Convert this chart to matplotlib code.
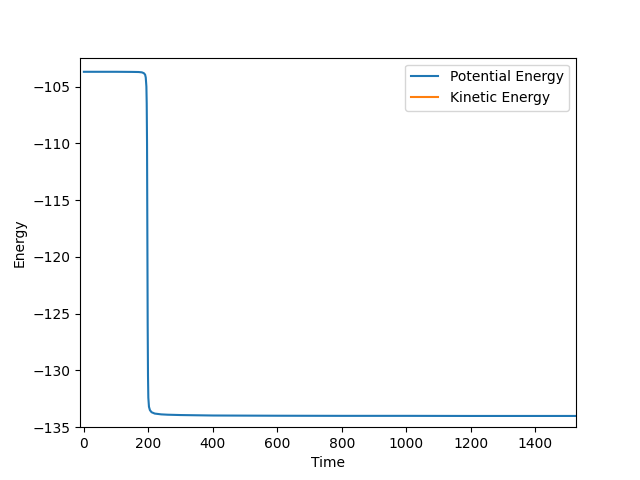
import matplotlib
matplotlib.use("Agg")
import matplotlib.pyplot as plt

time = [0, 50, 100, 150, 170, 180, 186, 190, 192, 194, 195, 196, 197, 198, 199, 200,
        202, 205, 210, 220, 240, 260, 300, 350, 400, 500, 600, 800, 1000, 1200, 1400, 1530]
potential = [-103.70, -103.70, -103.70, -103.71, -103.72, -103.75, -103.82, -103.95, -104.2,
             -105.0, -106.5, -110.0, -118.0, -126.0, -130.5, -132.4,
             -133.2, -133.5, -133.68, -133.8, -133.87, -133.9, -133.93, -133.95, -133.97,
             -133.98, -133.99, -134.0, -134.0, -134.01, -134.01, -134.01]
kinetic_time = []
kinetic = []

fig, ax = plt.subplots(figsize=(6.4, 4.8), dpi=100)
ax.plot(time, potential, label="Potential Energy")
ax.plot(kinetic_time, kinetic, label="Kinetic Energy")
ax.set_xlim(-12, 1527)
ax.set_ylim(-135, -102.45)
ax.set_xlabel("Time")
ax.set_ylabel("Energy")
ax.legend(loc="upper right")
fig.savefig("out.png")
